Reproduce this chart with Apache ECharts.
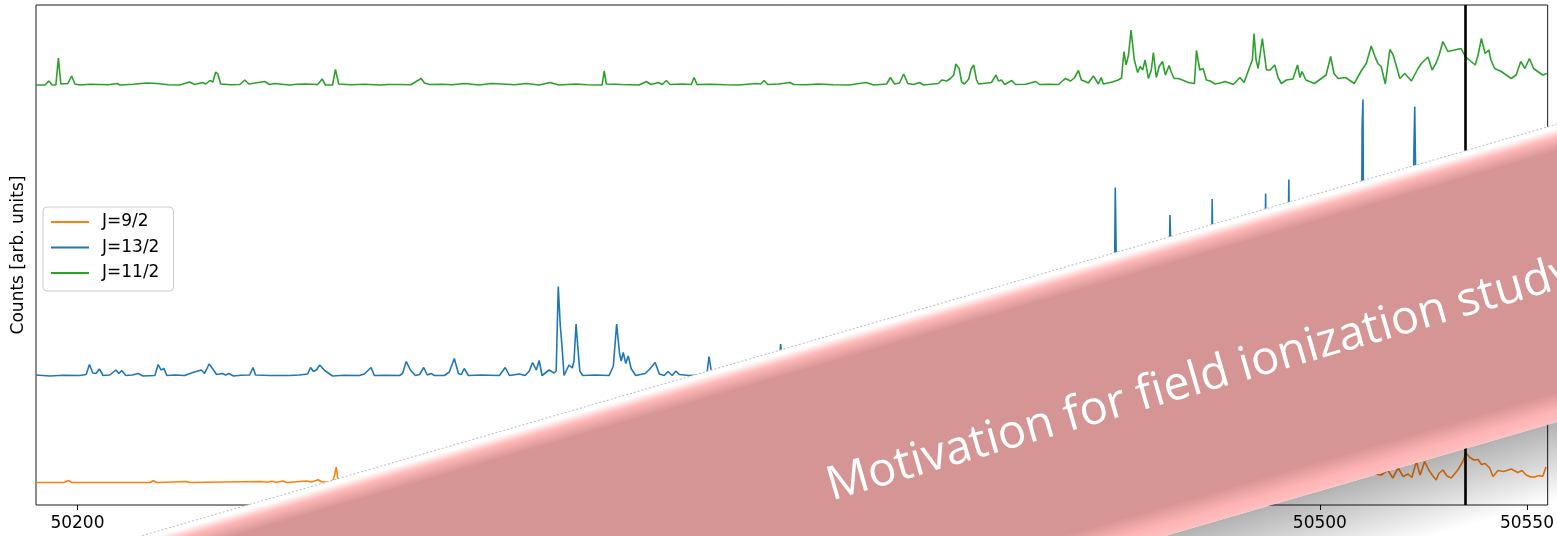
<!DOCTYPE html>
<html>
<head>
<meta charset="utf-8">
<script src="https://cdn.jsdelivr.net/npm/echarts@6/dist/echarts.min.js"></script>
<style>
  html, body { margin: 0; padding: 0; background: #fff; }
  #chart { width: 1557px; height: 536px; }
</style>
</head>
<body>
<div id="chart"></div>
<script>
// Eje x: número de onda
const xMin = 50190;
const xMax = 50555;
const xTickValues = [50200, 50250, 50300, 50350, 50400, 50450, 50500, 50550];
const markerX = 50535;

// Desplazamientos verticales de cada traza (apiladas)
const offsetJ9 = 4.5;
const offsetJ13 = 25.8;
const offsetJ11 = 84;

// Trazas: [x, cuentas] relativas a su desplazamiento
const traceJ9 = [
  [50190, 0], [50196.8, 0], [50197.8, 0.4], [50198.7, 0], [50217.5, 0], [50218.3, 0.35], [50219.2, 0],
  [50226.3, 0.2], [50227.1, 0], [50239.2, 0.15], [50244.5, 0.2], [50245.9, 0.05], [50246.9, 0.25],
  [50248.1, 0.05], [50249.6, 0.3], [50250.5, 0], [50255.3, 0.3], [50256.5, 0.1], [50258.1, 0.55],
  [50259.0, 0.1], [50261.6, 0.1], [50262.1, 1.5], [50262.5, 3.1], [50262.9, 0.5], [50263.8, 0.1],
  [50280, 0.2], [50300, 0.1], [50320, 0.3], [50340, 0.2], [50360, 0.4], [50380, 0.3], [50400, 0.5],
  [50420, 0.6], [50440, 0.8], [50460, 1.0], [50480, 1.3], [50495, 1.8], [50505, 1.2], [50510, 2.2],
  [50514.8, 1.5], [50516.4, 2.5], [50517.6, 0.9], [50518.9, 2.9], [50520.1, 1.2], [50521.3, 1.7],
  [50522.2, 1.0], [50523.3, 4.2], [50524.2, 1.5], [50525.3, 4.2], [50526.3, 2.5], [50527.3, 1.3],
  [50528.1, 0.5], [50528.7, 1.8], [50529.7, 2.5], [50530.7, 1.3], [50531.7, 0.9], [50533.3, 2.5],
  [50534.5, 4.2], [50535.3, 5.9], [50536.2, 5.0], [50537.2, 4.5], [50538.2, 4.6], [50539.0, 3.6],
  [50539.9, 3.8], [50541.0, 2.9], [50541.8, 1.2], [50543.0, 2.4], [50544.4, 2.2], [50546.2, 2.7],
  [50547.8, 2.0], [50548.8, 2.4], [50549.8, 1.5], [50550.9, 1.1], [50551.8, 1.1], [50552.9, 1.4],
  [50553.8, 1.2], [50554.6, 3.1]
];

const traceJ13 = [
  [50190, 0.2], [50193.4, 0], [50196.5, 0.15], [50200.6, 0.1], [50202.1, 0.3], [50202.9, 2.3], [50203.7, 0.6], [50204.5, 0.5],
  [50205.3, 1.4], [50206.2, 0.1], [50207.8, 0.2], [50209.3, 1.2], [50210.0, 0.5], [50210.7, 1.1],
  [50211.7, 0.1], [50213.2, 0.2], [50214.7, 0.5], [50215.8, 0], [50218.7, 0.1], [50219.5, 2.3], [50220.2, 1.2],
  [50220.9, 1.5], [50221.6, 0.1], [50223.5, 0.2], [50225.9, 0.1], [50227.5, 0.6], [50228.7, 0.9], [50229.9, 1.2],
  [50230.7, 0.5], [50231.8, 2.4], [50232.7, 1.4], [50233.6, 0.3], [50235.0, 0.5], [50235.8, 0.2],
  [50236.6, 0.5], [50237.7, 0], [50239.5, 0.15], [50241.6, 0.2], [50242.4, 1.7], [50243.0, 0.2], [50246.5, 0.1],
  [50251.2, 0.1], [50253.5, 0.2],
  [50255.6, 0.4], [50256.3, 1.7], [50257.0, 0.9], [50257.7, 1.2], [50258.5, 2.2], [50259.7, 1.1],
  [50261.6, 0], [50264.5, 0.15], [50268.1, 0.1], [50269.3, 0.4], [50270.9, 1.7], [50271.7, 0.1], [50274.5, 0.15], [50277.8, 0.1],
  [50278.5, 0.5], [50279.4, 2.9], [50280.4, 1.2], [50281.6, 0.1], [50282.6, 0.3], [50283.6, 1.7],
  [50284.5, 0.2], [50285.4, 0.5], [50286.2, 0.1], [50288.6, 0.1], [50289.8, 0.8], [50291.0, 3.5],
  [50292.0, 0.5], [50292.7, 0.3], [50293.4, 1.5], [50294.4, 0.1], [50297.5, 0.2], [50301.9, 0.1], [50303.3, 1.7],
  [50304.3, 0.1], [50306.7, 0.4], [50308.1, 0.1], [50309.1, 1.0], [50309.9, 2.7], [50310.8, 1.2],
  [50311.5, 3.1], [50312.2, 0.1], [50313.9, 1.2], [50315.1, 0.6], [50315.6, 1.0], [50316.1, 17.9],
  [50316.6, 10], [50317.0, 6.0], [50317.5, 0.1], [50318.3, 1.5], [50318.7, 2.2], [50319.5, 1.6],
  [50319.9, 3.0], [50320.4, 10.4], [50320.8, 6], [50321.3, 1.0], [50322.0, 0.1], [50325.0, 0.2], [50328.4, 0.1],
  [50329.4, 2.0], [50330.2, 10.4], [50330.9, 4.5], [50331.3, 3.0], [50331.8, 4.7], [50332.4, 2.5],
  [50333.0, 4.0], [50333.7, 1.5], [50334.8, 0.1], [50337.1, 0.5], [50338.1, 1.3], [50339.5, 2.7],
  [50340.5, 0.4], [50341.7, 0.1], [50342.6, 0.9], [50343.6, 0.1], [50344.5, 1.0], [50345.3, 0.3],
  [50347.7, 0.1], [50351.3, 0.2], [50352.0, 0.4], [50352.5, 3.9], [50353.2, 0.2], [50356.1, 0.1],
  [50362, 0.3], [50366, 0.2], [50369.2, 0.6], [50369.8, 6.4], [50370.4, 0.8], [50375, 0.2], [50385, 0.4],
  [50392, 0.2], [50400, 0.5], [50408, 0.3], [50413.5, 0.8], [50414.0, 15.8], [50414.5, 1.0], [50420, 0.3],
  [50430, 0.5], [50440, 0.3], [50446, 0.6], [50450.2, 1.0], [50450.6, 37.7], [50450.9, 20], [50451.2, 1.2],
  [50456, 0.4], [50463.3, 1.2], [50463.8, 32.2], [50464.2, 20], [50464.6, 1.0], [50469, 0.3],
  [50473.6, 0.8], [50474.0, 35.4], [50474.4, 1.0], [50480, 0.4], [50486.5, 1.0], [50486.9, 36.5],
  [50487.3, 1.0], [50492.0, 1.5], [50492.5, 39.3], [50493.0, 1.3], [50500, 0.5], [50505, 0.6],
  [50509.9, 2.0], [50510.2, 50], [50510.4, 55.3], [50510.7, 2.0], [50516, 0.6], [50522.3, 3],
  [50522.7, 45], [50522.9, 53.9], [50523.3, 30], [50523.7, 2], [50530, 0.8], [50540, 0.5], [50548, 0.4],
  [50555, 0.3]
];

const traceJ11 = [
  [50190, 0], [50192.2, 0], [50193.1, 0.8], [50193.9, 0], [50194.8, 0], [50195.4, 5.4], [50196.0, 0.2],
  [50197.7, 0.3], [50198.6, 1.8], [50199.4, 0.2], [50200.6, 0], [50203.0, 0.15], [50205.4, 0.1], [50207.5, 0.05], [50209.6, 0.3],
  [50210.3, 0], [50213.5, 0.15], [50216.7, 0.4], [50219.3, 0.3], [50222.0, 0.05], [50224.7, 0], [50227.1, 0.6], [50228.3, 0.1],
  [50230.2, 0.5], [50231.0, 0.2], [50232.0, 0.9], [50232.7, 0.6], [50233.4, 2.6], [50233.9, 2.2],
  [50234.6, 0.2], [50237.0, 0.05], [50239.2, 0.1], [50240.4, 1.0], [50241.4, 0.2], [50245.2, 0.7], [50246.4, 0.1],
  [50247.6, 0.3], [50251.2, 0], [50253.0, 0.15], [50255.1, 0.2], [50258.0, 0.1], [50259.1, 1.2], [50259.9, 0],
  [50261.6, 0], [50262.3, 3.1], [50263.1, 0.2], [50266.0, 0.05], [50269.5, 0.15], [50272.9, 0], [50275.0, 0.1], [50277.8, 0.1], [50280.5, 0.05], [50283.0, 1.3],
  [50283.8, 0.4], [50285.0, 0.1], [50288.0, 0.15], [50290.5, 0.05], [50293.4, 0.3], [50297.0, 0], [50299.9, 0.3], [50302.6, 0.2],
  [50305.5, 0.05], [50308.4, 0.3], [50311.5, 0], [50314.1, 0.5], [50316.3, 0], [50320.4, 0.2], [50323.0, 0.05], [50326.0, 0],
  [50326.7, 0], [50327.2, 2.8], [50327.7, 0.2], [50331.5, 0.1], [50335.6, 0], [50337.4, 0.7], [50338.5, 0.1],
  [50340.3, 0.5], [50341.2, 0.1], [50342.2, 0.9], [50343.1, 0.1], [50346.0, 0.2], [50348.2, 0.1],
  [50348.9, 1.5], [50349.6, 0.1], [50353.0, 0.15], [50356.5, 0.05], [50359.7, 0], [50363.8, 0.3], [50365.0, 0.2], [50365.8, 0.9],
  [50366.7, 0.1], [50369.4, 0.2], [50372.0, 0.5], [50373.0, 0.1], [50376.0, 0.05], [50379.0, 0.2], [50382.5, 0.05], [50386.3, 0],
  [50390.4, 0.5], [50392.3, 0], [50395.4, 0.2], [50396.3, 1.5], [50397.3, 0.2], [50398.5, 0.4],
  [50399.5, 2.2], [50400.5, 0.3], [50401.9, 0.1], [50403.3, 0.5], [50404.3, 0], [50407.9, 0.3],
  [50408.7, 1.0], [50409.9, 0.8], [50410.8, 1.3], [50411.6, 2.0], [50412.1, 4.2], [50412.9, 3.3],
  [50413.5, 0.6], [50414.2, 0.2], [50415.2, 1.2], [50415.8, 3.2], [50416.4, 4.0], [50417.1, 1.0],
  [50417.6, 0.2], [50420.7, 0.5], [50421.8, 2.0], [50422.4, 0.8], [50423.1, 1.0], [50423.9, 0.1],
  [50425.6, 0.9], [50426.5, 0.1], [50429.0, 0.15], [50431.4, 0.7], [50432.3, 0.1], [50434.5, 0.15], [50436.9, 0.1], [50438.1, 1.0],
  [50438.6, 1.3], [50439.8, 0.8], [50440.7, 1.4], [50441.7, 2.9], [50442.4, 1.0], [50443.1, 0.8],
  [50444.1, 0.4], [50445.3, 1.8], [50446.0, 0.9], [50446.5, 0.2], [50447.2, 1.5], [50447.7, 0.2],
  [50449.9, 0.6], [50451.3, 1.0], [50452.1, 1.4], [50452.7, 6.7], [50453.2, 4.0], [50453.8, 6.0],
  [50454.4, 11.0], [50455.2, 5.0], [50456.0, 2.5], [50456.6, 3.7], [50457.2, 3.0], [50457.8, 5.0],
  [50458.6, 1.3], [50459.3, 3.0], [50459.8, 6.5], [50460.5, 1.5], [50461.2, 3.7], [50462.0, 4.7],
  [50462.7, 2.0], [50463.6, 3.9], [50464.1, 2.6], [50464.8, 1.3], [50465.8, 1.3], [50466.8, 1.0],
  [50468.2, 0.5], [50469.7, 0.3], [50470.2, 6.9], [50471.0, 3.0], [50471.8, 3.3], [50472.6, 1.0],
  [50473.5, 0.8], [50474.7, 0.2], [50475.9, 0.4], [50477.1, 0.7], [50479.1, 0.1], [50480.7, 1.5],
  [50481.7, 0.5], [50483.1, 3.7], [50483.7, 5.0], [50484.1, 10.3], [50484.6, 5.0], [50485.1, 3.3],
  [50486.1, 9.3], [50487.1, 3.0], [50488.0, 3.0], [50489.1, 4.0], [50489.9, 1.5], [50490.7, 0.3],
  [50491.9, 1.0], [50493.5, 1.2], [50494.6, 4.0], [50495.2, 1.5], [50495.7, 2.7], [50496.6, 1.0],
  [50498.7, 0.3], [50500.0, 1.1], [50501.5, 2.0], [50502.6, 5.7], [50503.4, 2.3], [50504.4, 1.3],
  [50506.2, 1.5], [50508.3, 0.3], [50509.9, 2.7], [50511.2, 4.3], [50512.4, 7.8], [50513.3, 5.7],
  [50514.0, 4.3], [50514.8, 3.7], [50515.8, 0.2], [50516.9, 7.1], [50517.7, 6.0], [50518.5, 3.7],
  [50519.3, 1.3], [50520.5, 2.3], [50522.1, 0.8], [50523.7, 3.3], [50524.5, 4.3], [50526.1, 5.6],
  [50527.1, 3.0], [50528.0, 4.3], [50528.8, 6.0], [50529.7, 8.7], [50530.9, 6.7], [50532.5, 7.0],
  [50534.1, 7.3], [50535.1, 5.7], [50536.5, 4.7], [50537.5, 4.0], [50538.2, 6.0], [50539.0, 9.3],
  [50539.9, 6.3], [50540.8, 7.0], [50541.3, 5.0], [50542.2, 3.3], [50543.8, 2.7], [50545.0, 2.0],
  [50546.2, 1.3], [50547.4, 2.0], [50548.5, 4.7], [50549.5, 3.3], [50550.6, 5.3], [50551.6, 3.3],
  [50552.6, 2.7], [50553.8, 2.0], [50554.8, 2.3]
];

const seriesNames = ['J=9/2', 'J=13/2', 'J=11/2'];
const seriesColors = ['#ff7f0e', '#1f77b4', '#2ca02c'];

const bannerText = 'Motivation for field ionization study';

function shift(trace, off) {
  return trace.map(p => [p[0], p[1] + off]);
}

const chart = echarts.init(document.getElementById('chart'));
const font = 'DejaVu Sans';
const ang = Math.atan(0.2909); // inclinación de la banda

const option = {
  backgroundColor: '#ffffff',
  animation: false,
  grid: {
    left: 36, right: 8, top: 5, bottom: 31,
    show: true, borderColor: '#1a1a1a', borderWidth: 1, backgroundColor: 'transparent'
  },
  legend: {
    orient: 'vertical',
    left: 43, top: 207,
    icon: 'rect',
    itemWidth: 38, itemHeight: 2,
    itemGap: 7.5,
    padding: [6, 14, 9, 8],
    backgroundColor: 'rgba(255,255,255,0.8)',
    borderColor: '#cccccc', borderWidth: 1, borderRadius: 4,
    textStyle: { fontFamily: font, fontSize: 17, color: '#000', lineHeight: 18, padding: [0, 0, 0, 8] },
    data: seriesNames
  },
  xAxis: {
    type: 'value',
    min: xMin, max: xMax,
    axisLine: { show: false },
    splitLine: { show: false },
    axisTick: { show: true, length: 5, lineStyle: { color: '#000' }, customValues: xTickValues },
    axisLabel: {
      fontFamily: font, fontSize: 17, color: '#000', margin: 10, customValues: xTickValues,
      formatter: function (v) { return String(v); }
    }
  },
  yAxis: {
    type: 'value',
    min: 0, max: 100,
    name: 'Counts [arb. units]',
    nameLocation: 'middle',
    nameRotate: 90,
    nameGap: 9,
    nameTextStyle: { fontFamily: font, fontSize: 17, color: '#000' },
    axisLine: { show: false },
    axisTick: { show: false },
    axisLabel: { show: false },
    splitLine: { show: false }
  },
  series: [
    {
      name: seriesNames[0], type: 'line', showSymbol: false, symbol: 'none',
      data: shift(traceJ9, offsetJ9),
      lineStyle: { color: seriesColors[0], width: 1.6 }, itemStyle: { color: seriesColors[0] },
      markLine: {
        silent: true, symbol: 'none', label: { show: false },
        lineStyle: { color: '#000', width: 2.6, type: 'solid' },
        data: [{ xAxis: markerX }]
      }
    },
    {
      name: seriesNames[1], type: 'line', showSymbol: false, symbol: 'none',
      data: shift(traceJ13, offsetJ13),
      lineStyle: { color: seriesColors[1], width: 1.6 }, itemStyle: { color: seriesColors[1] }
    },
    {
      name: seriesNames[2], type: 'line', showSymbol: false, symbol: 'none',
      data: shift(traceJ11, offsetJ11),
      lineStyle: { color: seriesColors[2], width: 1.6 }, itemStyle: { color: seriesColors[2] }
    }
  ],
  graphic: [{
    type: 'group',
    x: 0, y: 577,
    rotation: ang,
    z: 100,
    children: [
      {
        type: 'rect', z: 100,
        shape: { x: -300, y: 286, width: 2400, height: 75 },
        style: {
          fill: new echarts.graphic.LinearGradient(0, 0, 0, 1, [
            { offset: 0, color: 'rgba(0,0,0,0.30)' },
            { offset: 1, color: 'rgba(0,0,0,0)' }
          ])
        }
      },
      {
        type: 'rect', z: 101,
        shape: { x: -300, y: 0, width: 2400, height: 286 },
        style: {
          fill: new echarts.graphic.LinearGradient(0, 0, 0, 1, [
            { offset: 0, color: '#ffffff' },
            { offset: 0.015, color: '#ffffff' },
            { offset: 0.045, color: '#ffb8b8' },
            { offset: 0.09, color: '#d69595' },
            { offset: 0.9, color: '#d69595' },
            { offset: 0.96, color: '#ffb3b3' },
            { offset: 1, color: '#ffc0c0' }
          ])
        }
      },
      {
        type: 'line', z: 102,
        shape: { x1: -300, y1: 0, x2: 2100, y2: 0 },
        style: { stroke: '#bdbdbd', lineWidth: 1, lineDash: [2, 2] }
      },
      {
        type: 'text', z: 103,
        x: 820, y: 169,
        style: {
          text: bannerText,
          fill: '#ffffff',
          font: '47px "Open Sans"',
          textAlign: 'left',
          textVerticalAlign: 'bottom'
        }
      }
    ]
  }]
};

chart.setOption(option);
window.addEventListener('resize', function () { chart.resize(); });
</script>
</body>
</html>
